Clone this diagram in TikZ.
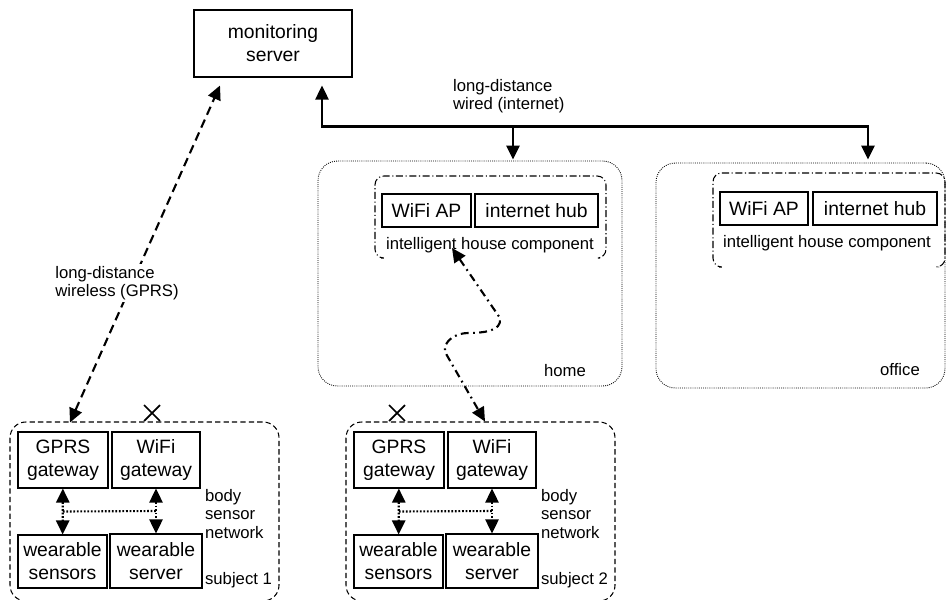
\documentclass[tikz,border=0pt]{standalone}
\usepackage{fontspec}
\setmainfont{Liberation Sans}
\usetikzlibrary{arrows.meta, positioning, calc, shapes.misc}

\newcommand{\boxsize}{\fontsize{11}{13}\selectfont}
\newcommand{\lblsize}{\fontsize{9.5}{10.5}\selectfont}

\begin{document}
\begin{tikzpicture}[x=0.02cm, y=-0.02cm, >={Triangle[length=8pt,width=7.5pt]},
  box/.style={draw, line width=0.6pt, align=center, inner sep=0pt, font=\boxsize},
  lbl/.style={align=left, inner sep=1pt, font=\lblsize},
  place/.style={draw, line width=0.5pt, dash pattern=on 0.5pt off 0.7pt, rounded corners=11pt},
  ihc/.style={line width=0.6pt, dash pattern=on 4pt off 1.5pt on 0.6pt off 1.5pt, rounded corners=5pt},
  subjbox/.style={line width=0.6pt, dash pattern=on 3pt off 1.8pt, rounded corners=9pt},
  wired/.style={line width=1.2pt},
  wireless/.style={line width=1.2pt, dash pattern=on 5pt off 3pt},
  shortlink/.style={line width=1.2pt, dash pattern=on 4.5pt off 2.5pt on 1pt off 2.5pt},
  bsn/.style={line width=1.2pt, dash pattern=on 1pt off 1pt},
  nolink/.style={cross out, draw, line width=1pt, minimum size=8pt, inner sep=0pt}]
\useasboundingbox (0,0) rectangle (947,599);

% server
\node[box, minimum width=3.16cm, minimum height=1.34cm] (srv) at (273,43.5) {monitoring\\server};

% places with the intelligent house component
\node[place, minimum width=6.08cm, minimum height=4.5cm] (home) at (470,273.5) {};
\node[place, minimum width=5.78cm, minimum height=4.5cm] (office) at (800.5,275.5) {};
\node[lbl] (homelbl) at (565,371) {home};
\node[lbl] (officelbl) at (900,370) {office};

\draw[ihc] (381,258) -- (375,258) -- (375,176) -- (606,176) -- (606,258) -- (600,258);
\node[box, minimum width=1.78cm, minimum height=0.66cm] (hap) at (426.5,210.5) {WiFi AP};
\node[box, minimum width=2.46cm, minimum height=0.66cm] (hhub) at (536.5,210.5) {internet hub};
\node[lbl] (hihc) at (490,245) {intelligent house component};

\draw[ihc] (719,267) -- (713,267) -- (713,173) -- (945,173) -- (945,267) -- (939,267);
\node[box, minimum width=1.76cm, minimum height=0.66cm] (oap) at (764,208.5) {WiFi AP};
\node[box, minimum width=2.48cm, minimum height=0.66cm] (ohub) at (875,208.5) {internet hub};
\node[lbl] (oihc) at (827,243) {intelligent house component};

% subjects
\foreach \s/\dx in {1/0, 2/336} {
  \begin{scope}[shift={(\dx,0)}]
    \draw[subjbox] (10,422) rectangle (279,601);
    \node[box, minimum width=1.8cm, minimum height=1.12cm] (gprs\s) at (63,460) {GPRS\\gateway};
    \node[box, minimum width=1.76cm, minimum height=1.12cm] (wifi\s) at (156,460) {WiFi\\gateway};
    \node[box, minimum width=1.78cm, minimum height=1.06cm] (sens\s) at (62.5,561.5) {wearable\\sensors};
    \node[box, minimum width=1.84cm, minimum height=1.08cm] (serv\s) at (156,561) {wearable\\server};
    \node[lbl, anchor=west] (bsnlbl\s) at (203,514) {body\\sensor\\network};
    \node[lbl, anchor=west] (subj\s) at (203,580) {subject \s};
    \draw[bsn, <->] (gprs\s) -- (sens\s);
    \draw[bsn, <->] (wifi\s) -- (serv\s);
    \draw[bsn] ($(gprs\s.south)!.5!(sens\s.north)$) -- ($(wifi\s.south)!.5!(serv\s.north)$);
  \end{scope}
}
\node[nolink] (x1) at (152,413) {};
\node[nolink] (x2) at (397,413) {};

% long-distance wireless
\coordinate (srvgprs) at ([shift={(-53,8)}]srv.south);
\coordinate (gprsin) at ([shift={(7,-9)}]gprs1.north);
\draw[wireless, <->] (gprsin) -- (srvgprs);
\node[lbl, fill=white] (wlabel) at (117,283) {long-distance\\wireless (GPRS)};

% long-distance wired
\coordinate (up) at ([shift={(49,8)}]srv.south);
\coordinate (bus) at ([shift={(0,41)}]up);
\coordinate (homein) at ([shift={(43,-1)}]home.north);
\coordinate (officein) at ([shift={(67.5,-3)}]office.north);
\draw[wired, <->] (up) -- (bus) -| (officein);
\draw[wired, ->] (bus -| homein) -- (homein);
\node[lbl, anchor=west] (wiredlbl) at (451,96) {long-distance\\wired (internet)};

% short-range wifi
\coordinate (hometip) at ([shift={(-38,3)}]hihc.center);
\coordinate (wifitip) at ([shift={(-7,-10)}]wifi2.north);
\draw[shortlink, <->] (hometip) -- (500,318) to[out=-80,in=0] (468,333) to[out=180,in=100] (445,352) -- (wifitip);
\end{tikzpicture}
\end{document}
